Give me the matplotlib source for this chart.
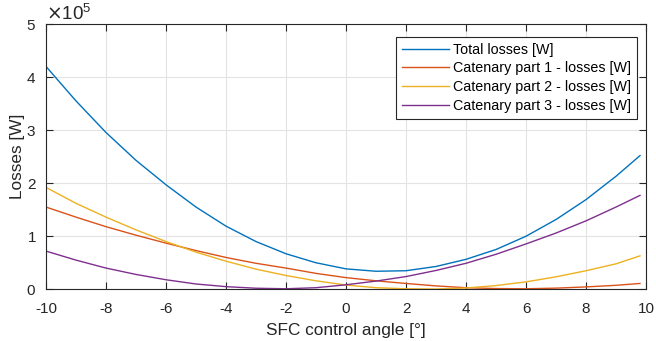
import numpy as np
import matplotlib
matplotlib.use('Agg')
import matplotlib.pyplot as plt

# SFC control angle [deg]
angle = [-10, -9, -8, -7, -6, -5, -4, -3, -2, -1, 0, 1, 2, 3, 4, 5, 6, 7, 8, 9, 9.8]

# losses (units of 1e5 W)
total = [4.20, 3.55, 2.955, 2.43, 1.97, 1.55, 1.19, 0.90, 0.67, 0.50, 0.385,
         0.34, 0.35, 0.43, 0.565, 0.75, 1.00, 1.315, 1.69, 2.13, 2.52]
part1 = [1.55, 1.36, 1.18, 1.02, 0.87, 0.73, 0.60, 0.49, 0.40, 0.30, 0.22,
         0.16, 0.11, 0.064, 0.03, 0.014, 0.01, 0.022, 0.045, 0.075, 0.11]
part2 = [1.92, 1.62, 1.36, 1.12, 0.90, 0.70, 0.53, 0.38, 0.26, 0.16, 0.08,
         0.03, 0.01, 0.005, 0.025, 0.07, 0.14, 0.235, 0.35, 0.48, 0.63]
part3 = [0.72, 0.55, 0.40, 0.28, 0.18, 0.10, 0.05, 0.02, 0.01, 0.03, 0.085,
         0.155, 0.24, 0.355, 0.49, 0.66, 0.855, 1.06, 1.29, 1.55, 1.77]

labels = ['Total losses [W]', 'Catenary part 1 - losses [W]',
          'Catenary part 2 - losses [W]', 'Catenary part 3 - losses [W]']
colors = ['#0072BD', '#D95319', '#EDB120', '#7E2F8E']

plt.rcParams['font.family'] = ['Liberation Sans', 'DejaVu Sans']
plt.rcParams['axes.unicode_minus'] = False
dark = '#262626'

fig = plt.figure(figsize=(6.56, 3.41), dpi=100)
ax = fig.add_axes((46/656, 1 - 289.3/341, 600/656, (289.3 - 24)/341))

for series, lab, col in zip([total, part1, part2, part3], labels, colors):
    ax.plot(angle, np.array(series) * 1e5, color=col, lw=1.0, label=lab)

ax.set_xlim(-10, 10)
ax.set_ylim(0, 5e5)
ax.set_xticks(range(-10, 11, 2))
ax.set_yticks(np.arange(0, 6) * 1e5)
ax.ticklabel_format(axis='y', style='sci', scilimits=(0, 0), useMathText=True)
ax.yaxis.get_offset_text().set_fontsize(13.5)
ax.yaxis.get_offset_text().set_color(dark)

ax.grid(True, color='#e3e3e3', lw=0.8)
ax.set_axisbelow(True)
ax.tick_params(direction='in', top=True, right=True, length=5, width=0.8,
               labelsize=11, colors=dark)
ax.tick_params(axis='x', pad=9)
ax.tick_params(axis='y', pad=7)
for sp in ax.spines.values():
    sp.set_color(dark)
    sp.set_linewidth(0.8)

ax.set_xlabel('SFC control angle [°]', fontsize=12.4, color=dark, labelpad=5)
ax.set_ylabel('Losses [W]', fontsize=12.4, color=dark, labelpad=1)

leg = ax.legend(loc='upper right', bbox_to_anchor=(0.985, 0.951), fontsize=10.3,
                fancybox=False, framealpha=1, edgecolor=dark,
                handlelength=3.3, borderpad=0.4, labelspacing=0.33,
                handletextpad=0.3, borderaxespad=0)
leg.get_frame().set_linewidth(0.8)

fig.savefig('out.png', dpi=100)
